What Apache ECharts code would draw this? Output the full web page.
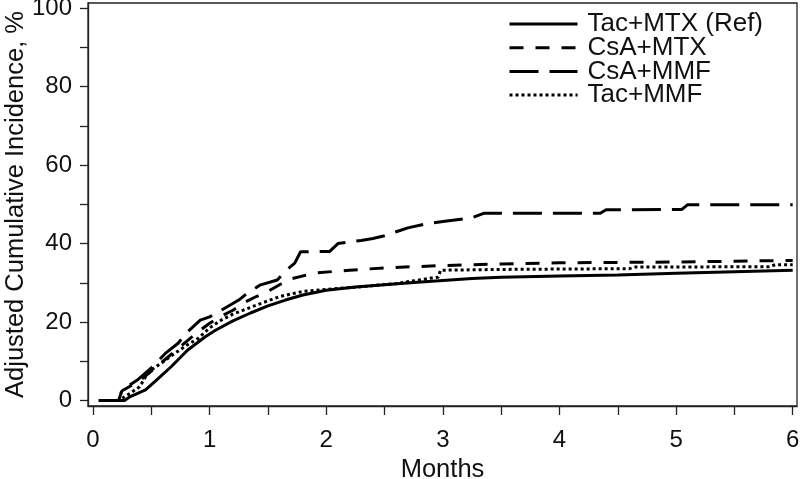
<!DOCTYPE html>
<html>
<head>
<meta charset="utf-8">
<script src="https://cdn.jsdelivr.net/npm/echarts@6/dist/echarts.min.js"></script>
<style>html,body{margin:0;padding:0;background:#fff}#c{width:800px;height:479px}</style>
</head>
<body>
<div id="c"></div>
<script>
const seriesNames = ['Tac+MTX (Ref)', 'CsA+MTX', 'CsA+MMF', 'Tac+MMF'];
const xTickValues = [0, 0.5, 1, 1.5, 2, 2.5, 3, 3.5, 4, 4.5, 5, 5.5, 6];
const xLabelValues = [0, 1, 2, 3, 4, 5, 6];
const yTickValues = [0, 10, 20, 30, 40, 50, 60, 70, 80, 90, 100];
const yLabelValues = [0, 20, 40, 60, 80, 100];

const tacMtx = [[0.05,0],[0.27,0],[0.32,1],[0.45,2.7],[0.53,4.8],[0.67,8.6],[0.81,12.8],[0.96,16.2],[1.05,17.9],[1.2,20.3],[1.35,22.3],[1.5,24.1],[1.65,25.6],[1.8,26.9],[2.0,28.1],[2.25,28.9],[2.5,29.5],[2.75,30.1],[3.0,30.6],[3.25,31.1],[3.5,31.4],[4.0,31.7],[4.5,32.0],[5.0,32.4],[5.5,32.8],[6.0,33.2]];
const csaMtx = [[0.05,0],[0.2,0],[0.25,2.5],[0.4,5],[0.5,7.5],[0.6,10],[0.7,12.5],[0.8,15],[0.9,17.5],[1.0,19.7],[1.1,21.5],[1.2,23],[1.3,25],[1.4,26.5],[1.5,27.8],[1.6,29.5],[1.7,31],[1.9,32.5],[2.2,33.2],[2.5,33.8],[3.0,34.4],[3.5,34.8],[4.0,35.1],[4.5,35.2],[5.0,35.3],[5.5,35.5],[6.0,35.7]];
const csaMmf = [[0.05,0],[0.22,0],[0.25,2.7],[0.38,5.2],[0.5,8.3],[0.62,12],[0.73,14.6],[0.8,17.2],[0.92,20.5],[1.0,21.3],[1.1,23],[1.25,25.6],[1.3,26.8],[1.43,29.4],[1.58,30.7],[1.65,33],[1.73,35],[1.78,37.9],[2.03,38],[2.1,40],[2.3,40.8],[2.4,41.3],[2.5,42],[2.6,43],[2.7,44],[2.85,45],[3.0,45.6],[3.25,46.6],[3.35,47.7],[4.35,47.7],[4.4,48.6],[5.05,48.7],[5.1,49.9],[6.0,49.9]];
const tacMmf = [[0.05,0],[0.22,0],[0.3,1.5],[0.4,3.5],[0.45,6],[0.5,7.8],[0.6,9.8],[0.7,12],[0.8,14],[0.9,15.8],[1.0,18.5],[1.1,20.5],[1.2,22],[1.4,24.3],[1.6,26.5],[1.8,27.8],[2.0,28.3],[2.3,29],[2.6,29.8],[2.9,31.2],[2.96,31.4],[2.98,33.2],[3.5,33.4],[4.0,33.5],[4.6,33.6],[4.65,34],[5.8,34.1],[5.85,34.6],[6.0,34.6]];

const FONT = 'Liberation Sans, Arial, sans-serif';
const chart = echarts.init(document.getElementById('c'));
function mk(name, data, dash) {
  return {
    name: name, type: 'line', data: data, symbol: 'none', smooth: false,
    lineStyle: {color: '#000', width: 3, type: dash},
    itemStyle: {color: '#000'}
  };
}
chart.setOption({
  animation: false,
  backgroundColor: '#fff',
  grid: {left: 88, right: 3, top: 3, bottom: 73, show: true, borderColor: '#222', borderWidth: 1.3,
         containLabel: false, outerBoundsMode: 'none'},
  legend: {
    orient: 'vertical', left: 503, top: 6, itemWidth: 68, itemHeight: 14, itemGap: -2.3,
    data: seriesNames,
    itemStyle: {opacity: 0, color: 'transparent', borderWidth: 0},
    lineStyle: {width: 3, color: '#000'},
    textStyle: {fontFamily: FONT, fontSize: 26, color: '#111', padding: [0,0,0,5]}
  },
  xAxis: {
    type: 'value', min: -0.043, max: 6.037,
    name: 'Months', nameLocation: 'middle', nameGap: 51, nameMoveOverlap: false,
    nameTextStyle: {fontFamily: FONT, fontSize: 25.5, color: '#111'},
    axisLine: {onZero: false, lineStyle: {color: '#222', width: 1.3}},
    axisTick: {show: true, length: 9, customValues: xTickValues, lineStyle: {color: '#222', width: 1.3}},
    axisLabel: {customValues: xLabelValues, margin: 22, fontFamily: FONT, fontSize: 24, color: '#111', formatter: v => String(Math.round(v))},
    splitLine: {show: false}
  },
  yAxis: {
    type: 'value', min: -1.4, max: 101.3,
    name: 'Adjusted Cumulative Incidence, %', nameLocation: 'middle', nameGap: 59, nameMoveOverlap: false,
    nameTextStyle: {fontFamily: FONT, fontSize: 25.5, color: '#111'},
    axisLine: {show: true, onZero: false, lineStyle: {color: '#222', width: 1.3}},
    axisTick: {show: true, length: 8, customValues: yTickValues, lineStyle: {color: '#222', width: 1.3}},
    axisLabel: {customValues: yLabelValues, margin: 16, fontFamily: FONT, fontSize: 24, color: '#111', formatter: v => String(Math.round(v))},
    splitLine: {show: false}
  },
  series: [
    mk(seriesNames[0], tacMtx, 'solid'),
    mk(seriesNames[1], csaMtx, [14, 12]),
    mk(seriesNames[2], csaMmf, [29, 11]),
    mk(seriesNames[3], tacMmf, [3, 3])
  ]
});
</script>
</body>
</html>
